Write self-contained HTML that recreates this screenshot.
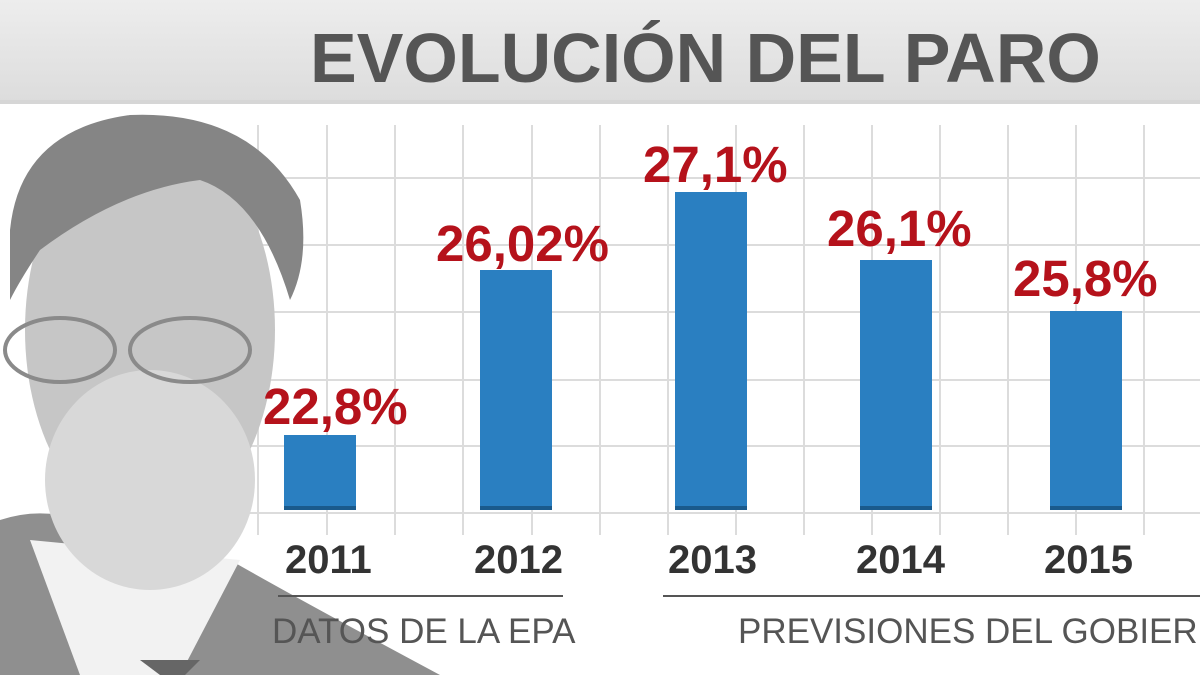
<!DOCTYPE html>
<html><head><meta charset="utf-8"><style>
body{margin:0;width:1200px;height:675px;overflow:hidden;background:#fff;font-family:"Liberation Sans",sans-serif;position:relative}
.t{position:absolute;white-space:nowrap}
.r{font-size:51px;font-weight:bold;color:#b5121b}
.y{font-size:40px;font-weight:bold;color:#333;top:538px}
</style></head><body>
<svg width="1200" height="675" style="position:absolute;left:0;top:0">
<defs><linearGradient id="hd" x1="0" y1="0" x2="0" y2="1"><stop offset="0" stop-color="#ededed"/><stop offset="1" stop-color="#dcdcdc"/></linearGradient></defs>
<rect x="0" y="0" width="1200" height="103" fill="url(#hd)"/>
<rect x="0" y="100" width="1200" height="4" fill="#d6d6d6"/>
<g stroke="#dcdcdc" stroke-width="2">
<line x1="258" y1="125" x2="258" y2="535"/><line x1="327" y1="125" x2="327" y2="535"/><line x1="395" y1="125" x2="395" y2="535"/><line x1="463" y1="125" x2="463" y2="535"/><line x1="532" y1="125" x2="532" y2="535"/><line x1="600" y1="125" x2="600" y2="535"/><line x1="668" y1="125" x2="668" y2="535"/><line x1="736" y1="125" x2="736" y2="535"/><line x1="804" y1="125" x2="804" y2="535"/><line x1="872" y1="125" x2="872" y2="535"/><line x1="940" y1="125" x2="940" y2="535"/><line x1="1008" y1="125" x2="1008" y2="535"/><line x1="1076" y1="125" x2="1076" y2="535"/><line x1="1144" y1="125" x2="1144" y2="535"/>
<line x1="240" y1="178" x2="1200" y2="178"/><line x1="240" y1="245" x2="1200" y2="245"/><line x1="240" y1="312" x2="1200" y2="312"/><line x1="240" y1="380" x2="1200" y2="380"/><line x1="240" y1="446" x2="1200" y2="446"/><line x1="240" y1="513" x2="1200" y2="513"/>
</g>
<path d="M0 520 Q60 500 120 540 L230 560 Q300 600 440 675 L0 675Z" fill="#8f8f8f"/>
<path d="M30 540 L80 675 L180 675 L240 560 Z" fill="#f2f2f2"/>
<path d="M140 660 L160 675 L185 675 L200 660 Z" fill="#666"/>
<ellipse cx="150" cy="330" rx="125" ry="200" fill="#c6c6c6"/>
<path d="M10 230 Q20 130 130 115 Q250 110 300 200 Q310 260 290 300 Q260 200 200 180 Q120 190 40 250 Q20 280 10 300Z" fill="#858585"/>
<ellipse cx="150" cy="480" rx="105" ry="110" fill="#d8d8d8"/>
<g fill="none" stroke="#8a8a8a" stroke-width="4"><ellipse cx="60" cy="350" rx="55" ry="32"/><ellipse cx="190" cy="350" rx="60" ry="32"/></g>
<g fill="#2a7fc1">
<rect x="284" y="435" width="72" height="75"/><rect x="480" y="270" width="72" height="240"/><rect x="675" y="192" width="72" height="318"/><rect x="860" y="260" width="72" height="250"/><rect x="1050" y="311" width="72" height="199"/>
</g>
<g fill="#1a5a8c"><rect x="284" y="506" width="72" height="4"/><rect x="480" y="506" width="72" height="4"/><rect x="675" y="506" width="72" height="4"/><rect x="860" y="506" width="72" height="4"/><rect x="1050" y="506" width="72" height="4"/></g>
<line x1="278" y1="596" x2="563" y2="596" stroke="#555" stroke-width="2"/>
<line x1="663" y1="596" x2="1200" y2="596" stroke="#555" stroke-width="2"/>
</svg>
<div class="t" style="left:310px;top:18px;font-size:70px;font-weight:bold;color:#555">EVOLUCIÓN DEL PARO</div>
<div class="t r" style="left:263px;top:377px">22,8%</div>
<div class="t r" style="left:436px;top:214px">26,02%</div>
<div class="t r" style="left:643px;top:135px">27,1%</div>
<div class="t r" style="left:827px;top:199px">26,1%</div>
<div class="t r" style="left:1013px;top:249px">25,8%</div>
<div class="t y" style="left:285px">2011</div>
<div class="t y" style="left:474px">2012</div>
<div class="t y" style="left:668px">2013</div>
<div class="t y" style="left:856px">2014</div>
<div class="t y" style="left:1044px">2015</div>
<div class="t" style="left:272px;top:612px;font-size:35px;color:#555">DATOS DE LA EPA</div>
<div class="t" style="left:738px;top:612px;font-size:35px;color:#555">PREVISIONES DEL GOBIERNO</div>
</body></html>
